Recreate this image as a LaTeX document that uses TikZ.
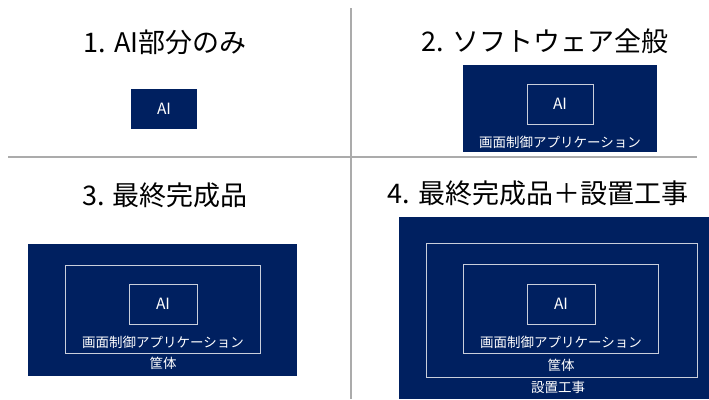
\documentclass[tikz,border=0pt]{standalone}
\usepackage{fontspec}
\setmainfont{Noto Sans CJK JP}
\definecolor{navy}{HTML}{002060}
\definecolor{framegray}{HTML}{C9CEDB}
\definecolor{rulegray}{HTML}{ABABAB}

\begin{document}
\begin{tikzpicture}
  [x=1pt,y=-1pt,
   title/.style={font=\fontsize{27}{30}\selectfont,text=black,inner sep=0},
   solid box/.style={fill=navy,inner sep=0,outer sep=0},
   frame box/.style={draw=framegray,line width=.8pt,inner sep=0},
   label/.style={font=\fontsize{13.5}{15}\selectfont,text=white,inner sep=0},
   ai label/.style={font=\fontsize{15.5}{17}\selectfont,text=white,inner sep=0}]
  \useasboundingbox (0,0) rectangle (709,399);

  % dividers
  \coordinate (vtop) at (351,8);
  \coordinate (vbot) at (351,399);
  \coordinate (hl) at (8,157);
  \coordinate (hr) at (697,157);
  \draw[rulegray,line width=1.6pt] (vtop) -- (vbot);
  \draw[rulegray,line width=1.6pt] (hl) -- (hr);

  % 1
  \node[title] (t1) at (165,42) {1. AI部分のみ};
  \node[solid box,minimum width=66,minimum height=40] (ai1) at (164,109) {};
  \node[ai label] at (ai1) {AI};

  % 2
  \node[title] (t2) at (545,41) {2. ソフトウェア全般};
  \node[solid box,minimum width=194,minimum height=87] (sw2) at (560,108.5) {};
  \node[frame box,minimum width=66,minimum height=40] (ai2) at (560,104) {};
  \node[ai label] at (ai2) {AI};
  \node[label] (app2) at (560,142) {画面制御アプリケーション};

  % 3
  \node[title] (t3) at (165,195) {3. 最終完成品};
  \node[solid box,minimum width=269,minimum height=132] (prod3) at (162.5,310) {};
  \node[frame box,minimum width=195,minimum height=88] (sw3) at (162.5,309) {};
  \node[frame box,minimum width=68,minimum height=40] (ai3) at (163,304) {};
  \node[ai label] at (ai3) {AI};
  \node[label] (app3) at (163,342) {画面制御アプリケーション};
  \node[label] (case3) at (163,363) {筐体};

  % 4
  \node[title] (t4) at (538,193) {4. 最終完成品＋設置工事};
  \node[solid box,minimum width=310,minimum height=182] (inst4) at (554,308) {};
  \node[frame box,minimum width=271,minimum height=134] (prod4) at (561.5,310) {};
  \node[frame box,minimum width=195,minimum height=89] (sw4) at (560.5,308.5) {};
  \node[frame box,minimum width=68,minimum height=40] (ai4) at (561,304) {};
  \node[ai label] at (ai4) {AI};
  \node[label] (app4) at (561,342) {画面制御アプリケーション};
  \node[label] (case4) at (561,365) {筐体};
  \node[label] (work4) at (558,387) {設置工事};

\end{tikzpicture}
\end{document}
